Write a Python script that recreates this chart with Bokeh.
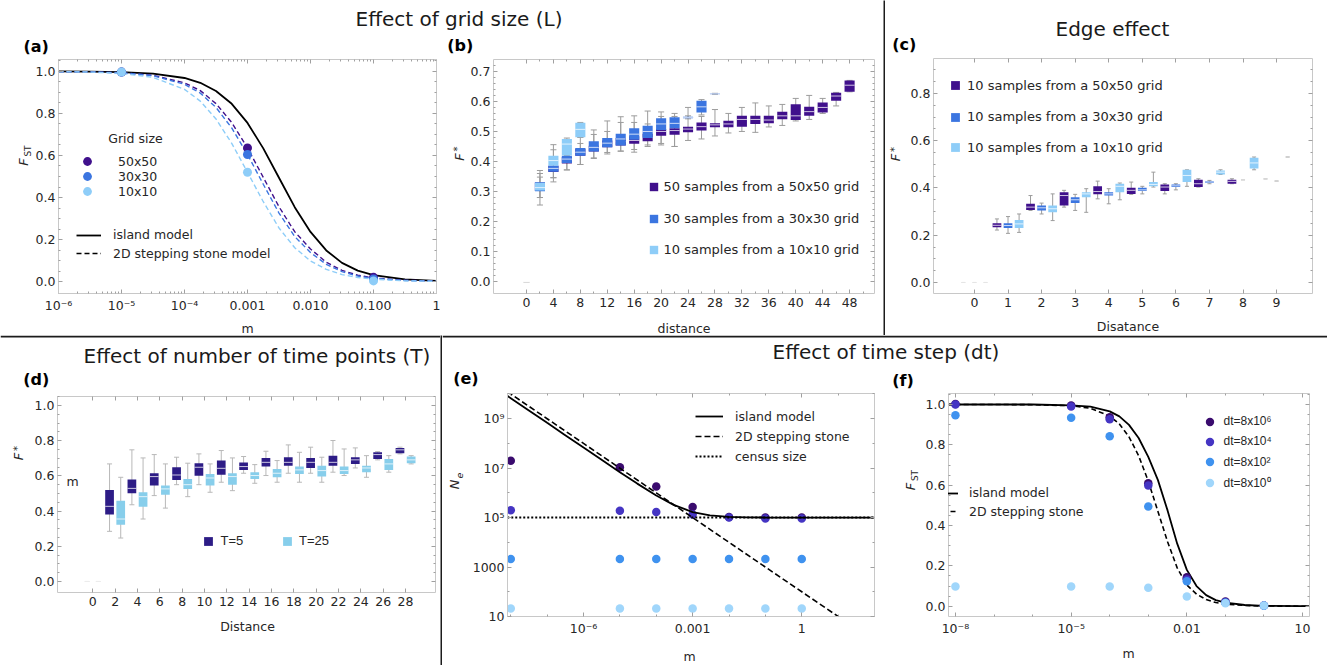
import math
from bokeh.plotting import figure
from bokeh.models import (Range1d, FixedTicker, LinearAxis, LogAxis, Label, Legend,
                          LegendItem, ColumnDataSource, NumeralTickFormatter, Span)
from bokeh.layouts import row, column
from bokeh.transform import dodge
from bokeh.embed import file_html
from bokeh.resources import INLINE

FONT = "DejaVu Sans"
LIB = "Liberation Sans"
FRAME = "#c8c8c8"
TICKC = "#a0a0a0"
TXT = "#262626"
SEP = "#1c1c1c"
WHISK = "#9c9c9c"
NAN = float("nan")

C50, C30, C10 = "#40108c", "#3b75e0", "#8ecdf8"
CT5, CT25 = "#2d1c86", "#87ceeb"
CDT = ["#3a0b6e", "#4535c3", "#3f92ef", "#a0d6fb"]

# ---------------- (a) effect of grid size: F_ST vs m ----------------
a_grid_labels = ["50x50", "30x30", "10x10"]
a_line_labels = ["island model", "2D stepping stone model"]
a_m_obs = [1e-5, 1e-3, 1e-1]
a_obs_50 = [0.997, 0.636, 0.020]
a_obs_30 = [0.997, 0.605, 0.012]
a_obs_10 = [0.997, 0.520, 0.003]
a_m = [1e-6, 3.16e-6, 1e-5, 3.16e-5, 1e-4, 1.78e-4, 3.16e-4, 5.62e-4, 1e-3, 1.78e-3,
       3.16e-3, 5.62e-3, 1e-2, 1.78e-2, 3.16e-2, 5.62e-2, 0.1, 0.316, 1.0]
a_island = [1.000, 0.999, 0.997, 0.990, 0.969, 0.946, 0.907, 0.846, 0.755, 0.634,
            0.494, 0.354, 0.236, 0.148, 0.089, 0.052, 0.030, 0.010, 0.003]
a_ss_50 = [0.999, 0.998, 0.994, 0.982, 0.946, 0.909, 0.847, 0.757, 0.636, 0.496,
           0.356, 0.237, 0.155, 0.092, 0.053, 0.030, 0.017, 0.006, 0.002]
a_ss_30 = [0.999, 0.998, 0.994, 0.980, 0.939, 0.897, 0.829, 0.731, 0.605, 0.463,
           0.326, 0.214, 0.138, 0.082, 0.047, 0.026, 0.015, 0.005, 0.002]
a_ss_10 = [0.999, 0.997, 0.991, 0.972, 0.915, 0.859, 0.774, 0.658, 0.520, 0.380,
           0.255, 0.161, 0.098, 0.058, 0.033, 0.019, 0.011, 0.003, 0.001]

# ---------------- (b) F* vs distance, three grid sizes ----------------
b_labels = ["50 samples from a 50x50 grid", "30 samples from a 30x30 grid",
            "10 samples from a 10x10 grid"]
b_d50 = [0, 2, 4, 6, 8, 10, 12, 14, 16, 18, 20, 22, 24, 26, 28, 30, 32, 34, 36, 38, 40, 42, 44, 46, 48]
b_lo50 = [0.0, 0.28, 0.346, 0.372, 0.39, 0.41, 0.43, 0.435, 0.44, 0.45, 0.46, 0.45, 0.47,
          0.475, 0.485, 0.495, 0.50, 0.497, 0.515, 0.52, 0.535, 0.54, 0.56, 0.585, 0.632]
b_q1_50 = [0.0, 0.302, 0.365, 0.393, 0.419, 0.433, 0.447, 0.453, 0.459, 0.467, 0.486, 0.489, 0.497,
           0.503, 0.514, 0.514, 0.516, 0.525, 0.527, 0.541, 0.538, 0.552, 0.563, 0.602, 0.632]
b_med50 = [0.0, 0.314, 0.376, 0.405, 0.430, 0.443, 0.456, 0.466, 0.470, 0.480, 0.500, 0.503, 0.508,
           0.516, 0.522, 0.525, 0.540, 0.540, 0.538, 0.552, 0.552, 0.566, 0.580, 0.618, 0.654]
b_q3_50 = [0.0, 0.330, 0.386, 0.415, 0.442, 0.452, 0.470, 0.478, 0.484, 0.492, 0.508, 0.511, 0.516,
           0.530, 0.527, 0.536, 0.552, 0.552, 0.552, 0.566, 0.591, 0.582, 0.596, 0.629, 0.670]
b_hi50 = [0.0, 0.36, 0.40, 0.43, 0.46, 0.49, 0.50, 0.53, 0.53, 0.525, 0.55, 0.55, 0.58,
          0.55, 0.573, 0.56, 0.58, 0.595, 0.585, 0.59, 0.61, 0.62, 0.61, 0.63, 0.67]
b_d30 = [0, 2, 4, 6, 8, 10, 12, 14, 16, 18, 20, 22, 24, 26, 28]
b_lo30 = [0.0, 0.255, 0.332, 0.372, 0.39, 0.412, 0.425, 0.434, 0.431, 0.455, 0.455, 0.45, 0.542, 0.555, 0.623]
b_q1_30 = [0.0, 0.301, 0.366, 0.395, 0.419, 0.433, 0.447, 0.453, 0.472, 0.478, 0.505, 0.511, 0.544, 0.563, 0.624]
b_med30 = [0.0, 0.313, 0.377, 0.408, 0.431, 0.447, 0.461, 0.475, 0.491, 0.500, 0.525, 0.527, 0.546, 0.582, 0.625]
b_q3_30 = [0.0, 0.331, 0.386, 0.419, 0.445, 0.467, 0.478, 0.492, 0.511, 0.519, 0.544, 0.547, 0.549, 0.602, 0.626]
b_hi30 = [0.0, 0.37, 0.439, 0.44, 0.48, 0.505, 0.535, 0.549, 0.552, 0.568, 0.565, 0.56, 0.552, 0.606, 0.627]
b_d10 = [0, 2, 4, 6, 8]
b_lo10 = [0.0, 0.28, 0.346, 0.42, 0.481]
b_q1_10 = [0.0, 0.303, 0.386, 0.42, 0.481]
b_med10 = [0.0, 0.313, 0.403, 0.458, 0.507]
b_q3_10 = [0.0, 0.329, 0.419, 0.475, 0.529]
b_hi10 = [0.0, 0.348, 0.456, 0.478, 0.53]

# ---------------- (c) edge effect ----------------
c_labels = ["10 samples from a 50x50 grid", "10 samples from a 30x30 grid",
            "10 samples from a 10x10 grid"]
c_d = [0, 1, 2, 3, 4, 5, 6, 7, 8, 9]
c_lo50 = [0, 0.222, 0.305, 0.319, 0.354, 0.373, 0.375, 0.404, 0.418, 0.439]
c_q1_50 = [0, 0.234, 0.307, 0.326, 0.373, 0.375, 0.387, 0.404, 0.418, 0.439]
c_med50 = [0, 0.242, 0.319, 0.368, 0.385, 0.390, 0.404, 0.418, 0.428, 0.439]
c_q3_50 = [0, 0.251, 0.333, 0.382, 0.407, 0.401, 0.415, 0.435, 0.435, 0.439]
c_hi50 = [0, 0.269, 0.368, 0.390, 0.429, 0.425, 0.418, 0.439, 0.439, 0.439]
c_lo30 = [0, 0.208, 0.290, 0.305, 0.333, 0.375, 0.392, 0.418, 0.435, 0.429]
c_q1_30 = [0, 0.231, 0.305, 0.336, 0.368, 0.387, 0.404, 0.421, 0.435, 0.429]
c_med30 = [0, 0.241, 0.316, 0.350, 0.375, 0.392, 0.409, 0.425, 0.435, 0.429]
c_q3_30 = [0, 0.251, 0.326, 0.361, 0.382, 0.401, 0.415, 0.429, 0.435, 0.429]
c_hi30 = [0, 0.279, 0.336, 0.373, 0.397, 0.407, 0.418, 0.432, 0.435, 0.429]
c_lo10 = [0, 0.212, 0.262, 0.297, 0.350, 0.404, 0.407, 0.457, 0.477, 0.531]
c_q1_10 = [0, 0.231, 0.297, 0.361, 0.382, 0.407, 0.425, 0.457, 0.482, 0.531]
c_med10 = [0, 0.248, 0.312, 0.375, 0.407, 0.415, 0.453, 0.467, 0.506, 0.531]
c_q3_10 = [0, 0.265, 0.326, 0.382, 0.418, 0.425, 0.477, 0.474, 0.528, 0.531]
c_hi10 = [0, 0.290, 0.375, 0.397, 0.421, 0.467, 0.477, 0.477, 0.531, 0.531]

# ---------------- (d) number of time points ----------------
d_labels = ["T=5", "T=25"]
d_d = [0, 2, 4, 6, 8, 10, 12, 14, 16, 18, 20, 22, 24, 26, 28]
d_lo5 = [0, 0.285, 0.436, 0.488, 0.55, 0.55, 0.564, 0.615, 0.602, 0.615, 0.615, 0.621, 0.645, 0.691, 0.725]
d_q1_5 = [0, 0.38, 0.501, 0.545, 0.577, 0.601, 0.607, 0.634, 0.653, 0.658, 0.645, 0.658, 0.668, 0.696, 0.729]
d_med5 = [0, 0.427, 0.529, 0.596, 0.605, 0.649, 0.643, 0.653, 0.677, 0.677, 0.677, 0.677, 0.691, 0.721, 0.748]
d_q3_5 = [0, 0.52, 0.579, 0.615, 0.649, 0.672, 0.687, 0.676, 0.702, 0.706, 0.702, 0.715, 0.706, 0.734, 0.759]
d_hi5 = [0, 0.668, 0.748, 0.721, 0.706, 0.725, 0.744, 0.71, 0.74, 0.776, 0.763, 0.801, 0.759, 0.738, 0.763]
d_lo25 = [0, 0.247, 0.355, 0.417, 0.482, 0.507, 0.516, 0.558, 0.564, 0.564, 0.564, 0.602, 0.592, 0.621, 0.668]
d_q1_25 = [0, 0.323, 0.425, 0.493, 0.526, 0.545, 0.55, 0.583, 0.592, 0.611, 0.596, 0.611, 0.621, 0.634, 0.672]
d_med25 = [0, 0.355, 0.482, 0.526, 0.55, 0.588, 0.596, 0.602, 0.615, 0.634, 0.63, 0.63, 0.645, 0.668, 0.691]
d_q3_25 = [0, 0.459, 0.507, 0.545, 0.583, 0.611, 0.615, 0.621, 0.639, 0.653, 0.658, 0.653, 0.658, 0.696, 0.71]
d_hi25 = [0, 0.592, 0.702, 0.668, 0.672, 0.668, 0.702, 0.664, 0.687, 0.734, 0.706, 0.753, 0.715, 0.715, 0.715]

# ---------------- (e) Ne vs m ----------------
e_line_labels = ["island model", "2D stepping stone", "census size"]
e_m_obs = [1e-8, 1e-5, 1e-4, 1e-3, 1e-2, 1e-1, 1.0]
e_dt8e6 = [2.0e7, 1.1e7, 1.8e6, 2.7e5, 1.07e5, 1.0e5, 1.0e5]
e_dt8e4 = [2.0e5, 1.9e5, 1.7e5, 1.35e5, 1.0e5, 0.93e5, 0.93e5]
e_dt8e2 = [2100, 2100, 2100, 2100, 2100, 2100, 2100]
e_dt8e0 = [21, 21, 21, 21, 21, 21, 21]
e_m_line = [8e-9, 1e-8, 3e-8, 1e-7, 3e-7, 1e-6, 3e-6, 1e-5, 3e-5, 1e-4, 3e-4, 1e-3,
            3e-3, 1e-2, 3e-2, 0.1, 0.3, 1.0, 10.0, 100.0]
e_island = [8.5e9, 6.8e9, 2.27e9, 6.8e8, 2.27e8, 6.81e7, 2.28e7, 6.9e6, 2.37e6, 7.8e5, 3.27e5,
            1.68e5, 1.23e5, 1.07e5, 1.02e5, 1.007e5, 1.002e5, 1.0e5, 1.0e5, 1.0e5]
e_m_ss = [8e-9, 1e-8, 1e-7, 1e-6, 1e-5, 1e-4, 1e-3, 1e-2, 0.1, 1.0, 10.0, 20.0]
e_ss = [1.25e10, 1.0e10, 1.0e9, 1.0e8, 1.0e7, 1.0e6, 1.0e5, 1.0e4, 1.0e3, 100.0, 10.0, 5.0]
e_m_census = [8e-9, 100.0]
e_census = [1.0e5, 1.0e5]

# ---------------- (f) F_ST vs m, time step ----------------
f_dt_labels = ["dt=8x10\u2076", "dt=8x10\u2074", "dt=8x10\u00b2", "dt=8x10\u2070"]
f_line_labels = ["island model", "2D stepping stone"]
f_m_obs = [1e-8, 1e-5, 1e-4, 1e-3, 1e-2, 1e-1, 1.0]
f_dt8e6 = [1.003, 0.995, 0.937, 0.610, 0.144, 0.023, 0.003]
f_dt8e4 = [1.000, 0.990, 0.927, 0.598, 0.132, 0.020, 0.003]
f_dt8e2 = [0.947, 0.934, 0.843, 0.494, 0.124, 0.017, 0.002]
f_dt8e0 = [0.0975, 0.0975, 0.0975, 0.091, 0.048, 0.015, 0.003]
f_m = [6.3e-9, 1e-8, 1e-7, 1e-6, 1e-5, 3.16e-5, 1e-4, 1.78e-4, 3.16e-4, 5.62e-4, 1e-3,
       1.78e-3, 3.16e-3, 5.62e-3, 1e-2, 1.78e-2, 3.16e-2, 5.62e-2, 0.1, 0.316, 1.0, 10.0, 16.0]
f_island = [1.0, 1.0, 1.0, 1.0, 0.996, 0.989, 0.966, 0.941, 0.899, 0.834, 0.740, 0.625,
            0.475, 0.310, 0.180, 0.100, 0.055, 0.030, 0.018, 0.006, 0.002, 0.0, 0.0]
f_ss = [1.0, 1.0, 1.0, 0.999, 0.994, 0.981, 0.943, 0.903, 0.840, 0.746, 0.620, 0.470,
        0.320, 0.190, 0.105, 0.060, 0.033, 0.018, 0.010, 0.004, 0.001, 0.0, 0.0]


# ---------------- helpers ----------------
def make_fig(w, h, xr, yr, bl, br, bt, bb, xlog=False, ylog=False):
    p = figure(width=w, height=h, x_range=xr, y_range=yr,
               x_axis_type="log" if xlog else "linear",
               y_axis_type="log" if ylog else "linear",
               output_backend="svg", toolbar_location=None,
               min_border_left=bl, min_border_right=br,
               min_border_top=bt, min_border_bottom=bb,
               outline_line_color=None)
    p.xgrid.visible = False
    p.ygrid.visible = False
    top = (LogAxis if xlog else LinearAxis)()
    right = (LogAxis if ylog else LinearAxis)()
    p.add_layout(top, "above")
    p.add_layout(right, "right")
    for ax in (top, right):
        ax.major_label_text_font_size = "1px"
        ax.major_label_text_alpha = 0.0
        ax.major_label_standoff = 0
    return p, top, right


def set_ticks(p, top, right, xt, xmin, yt, ymin, xover=None, yover=None, xfmt=None, yfmt=None):
    xtk = FixedTicker(ticks=xt, minor_ticks=xmin)
    ytk = FixedTicker(ticks=yt, minor_ticks=ymin)
    bottom = p.below[0]
    left = p.left[0]
    bottom.ticker = xtk
    top.ticker = xtk
    left.ticker = ytk
    right.ticker = ytk
    for ax in (bottom, top, left, right):
        ax.axis_line_color = FRAME
        ax.major_tick_line_color = TICKC
        ax.minor_tick_line_color = TICKC
        ax.major_tick_in = 4
        ax.major_tick_out = 0
        ax.minor_tick_in = 2
        ax.minor_tick_out = 0
    for ax in (bottom, left):
        ax.major_label_text_font = FONT
        ax.major_label_text_font_size = "12.5px"
        ax.major_label_text_color = TXT
    bottom.major_label_standoff = 4
    left.major_label_standoff = 3
    if xover:
        bottom.major_label_overrides = xover
    if yover:
        left.major_label_overrides = yover
    if xfmt:
        bottom.formatter = NumeralTickFormatter(format=xfmt)
    if yfmt:
        left.formatter = NumeralTickFormatter(format=yfmt)


def lab(p, g, text, x, y, size="12.5px", font=FONT, style="normal", align="left",
        angle=0.0, color=TXT):
    # x, y in page pixels (y = vertical middle of the text); g = frame (left, bottom)
    p.add_layout(Label(x=x - g[0], y=g[1] - y, x_units="screen", y_units="screen", text=text,
                       text_font=font, text_font_size=size, text_font_style=style,
                       text_align=align, text_baseline="middle", angle=angle,
                       text_color=color))


def leg(p, g, r, text, cx, cy, gw, gh, tx, font=FONT, size="12.5px"):
    L = Legend(items=[LegendItem(label=text, renderers=[r])],
               location=(cx - gw / 2 - g[0], g[1] - cy - gh / 2),
               padding=0, spacing=0, margin=0,
               glyph_width=int(round(gw)), glyph_height=int(round(gh)),
               label_height=int(round(gh)), label_width=1,
               label_standoff=int(round(tx - (cx + gw / 2))),
               border_line_color=None, background_fill_alpha=0.0,
               label_text_font=font, label_text_font_size=size, label_text_color=TXT)
    p.add_layout(L)


def strip(x0, y0, x1, y1, color="white"):
    p = figure(width=x1 - x0, height=y1 - y0, output_backend="svg", toolbar_location=None,
               min_border=0, x_axis_location=None, y_axis_location=None,
               background_fill_color=color, border_fill_color=color,
               outline_line_color=None, x_range=Range1d(0, 1), y_range=Range1d(0, 1))
    p.xgrid.visible = False
    p.ygrid.visible = False
    return p, (x0, y1)


def hline(p, g, y):
    p.add_layout(Span(location=g[1] - y, location_units="screen", dimension="width",
                      line_color=SEP, line_width=2))


def whiskers(p, d, lo, hi, off, cw, color):
    src = ColumnDataSource(dict(d=d, lo=lo, hi=hi))
    p.segment(x0=dodge("d", off), y0="lo", x1=dodge("d", off), y1="hi", source=src,
              line_color=color, line_width=1)
    p.segment(x0=dodge("d", off - cw / 2), y0="lo", x1=dodge("d", off + cw / 2), y1="lo",
              source=src, line_color=color, line_width=1)
    p.segment(x0=dodge("d", off - cw / 2), y0="hi", x1=dodge("d", off + cw / 2), y1="hi",
              source=src, line_color=color, line_width=1)


def boxes(p, d, q1, med, q3, off, bw, color):
    src = ColumnDataSource(dict(d=d, q1=q1, med=med, q3=q3))
    p.vbar(x=dodge("d", off), width=bw, bottom="q1", top="q3", source=src,
           fill_color=color, line_color=None)
    p.segment(x0=dodge("d", off - bw / 2), y0="med", x1=dodge("d", off + bw / 2), y1="med",
              source=src, line_color="white", line_alpha=0.75, line_width=1)


def ylab_rot(p, g, main, sub, mx, my, sx, sy, subsize="9px", substyle="normal"):
    lab(p, g, main, mx, my, size="13px", style="italic", align="center", angle=math.pi / 2)
    lab(p, g, sub, sx, sy, size=subsize, style=substyle, align="center", angle=math.pi / 2)


def panel_tag(p, g, text, x, y):
    lab(p, g, text, x, y, size="16px", style="bold", color="black")


def title_txt(p, g, text, x, y):
    lab(p, g, text, x, y, size="20px", color="#1a1a1a")


fr02 = [round(0.2 * i, 1) for i in range(6)]
mn05 = [round(0.05 * i, 2) for i in range(22) if i % 4 != 0]

# ================= (a) =================
GA = (57, 295)
pa, ta, ra = make_fig(413, 259, Range1d(1e-6, 1.0), Range1d(-0.057, 1.057), 25, 9, 3, 20, xlog=True)
a_xt = [1e-6, 1e-5, 1e-4, 1e-3, 1e-2, 1e-1, 1.0]
a_xmin = [k * 10.0 ** e for e in range(-6, 0) for k in range(2, 10)]
set_ticks(pa, ta, ra, a_xt, a_xmin, fr02, mn05,
          xover={1e-6: "10\u207b\u2076", 1e-5: "10\u207b\u2075", 1e-4: "10\u207b\u2074",
                 1e-3: "0.001", 1e-2: "0.010", 1e-1: "0.100", 1.0: "1"},
          yfmt="0.0")
r_isl_a = pa.line(a_m, a_island, line_color="black", line_width=1.8)
pa.line(a_m, a_ss_50, line_color=C50, line_width=1.4, line_dash="5 3")
pa.line(a_m, a_ss_30, line_color=C30, line_width=1.4, line_dash="5 3")
pa.line(a_m, a_ss_10, line_color=C10, line_width=1.4, line_dash="5 3")
r_ss_a = pa.line(x=[NAN], y=[NAN], line_color="black", line_width=1.6, line_dash="5 3")
ra50 = pa.scatter(a_m_obs, a_obs_50, size=9, marker="circle", fill_color=C50, line_color=None)
ra30 = pa.scatter(a_m_obs, a_obs_30, size=9, marker="circle", fill_color=C30, line_color=None)
ra10 = pa.scatter(a_m_obs, a_obs_10, size=9, marker="circle", fill_color=C10, line_color=None)
lab(pa, GA, "Grid size", 106.7, 139.5)
for r, t, cy in zip([ra50, ra30, ra10], a_grid_labels, [163.3, 178.3, 193.3]):
    leg(pa, GA, r, t, 86, cy, 22, 22, 117.3)
for r, t, cy in zip([r_isl_a, r_ss_a], a_line_labels, [236.7, 255.0]):
    leg(pa, GA, r, t, 87.5, cy, 25, 16, 112.3)

# ================= (b) =================
GB = (493, 295)
pb, tb, rb = make_fig(417, 259, Range1d(-4.9, 51.7), Range1d(-0.0396, 0.7396), 27, 9, 3, 20)
set_ticks(pb, tb, rb, list(range(0, 49, 4)), list(range(2, 51, 4)),
          [round(0.1 * i, 1) for i in range(8)], [round(0.02 * i, 2) for i in range(37) if i % 5 != 0],
          yfmt="0.0")
whiskers(pb, b_d50, b_lo50, b_hi50, 0, 0.9, WHISK)
whiskers(pb, b_d30, b_lo30, b_hi30, 0, 0.9, WHISK)
whiskers(pb, b_d10, b_lo10, b_hi10, 0, 0.9, WHISK)
boxes(pb, b_d50, b_q1_50, b_med50, b_q3_50, 0, 1.5, C50)
boxes(pb, b_d30, b_q1_30, b_med30, b_q3_30, 0, 1.5, C30)
boxes(pb, b_d10, b_q1_10, b_med10, b_q3_10, 0, 1.5, C10)
for c, t, cy in zip([C50, C30, C10], b_labels, [188.3, 220.0, 251.0]):
    rr = pb.scatter(x=[NAN], y=[NAN], marker="square", fill_color=c, line_color=None)
    leg(pb, GB, rr, t, 653, cy, 21, 21, 661.7, size="13px")

# ================= (c) =================
GC = (933, 293)
pc, tc, rc = make_fig(424, 258, Range1d(-1.22, 10.07), Range1d(-0.0466, 0.948), 30, 15, 3, 20)
set_ticks(pc, tc, rc, c_d, [], [0.0, 0.2, 0.4, 0.6, 0.8],
          [round(0.05 * i, 2) for i in range(19) if i % 4 != 0], yfmt="0.0")
whiskers(pc, c_d, c_lo50, c_hi50, -0.33, 0.12, WHISK)
whiskers(pc, c_d, c_lo30, c_hi30, 0.0, 0.12, WHISK)
whiskers(pc, c_d, c_lo10, c_hi10, 0.33, 0.12, WHISK)
boxes(pc, c_d, c_q1_50, c_med50, c_q3_50, -0.33, 0.26, C50)
boxes(pc, c_d, c_q1_30, c_med30, c_q3_30, 0.0, 0.26, C30)
boxes(pc, c_d, c_q1_10, c_med10, c_q3_10, 0.33, 0.26, C10)
for c, t, cy in zip([C50, C30, C10], c_labels, [85.0, 116.7, 147.3]):
    rr = pc.scatter(x=[NAN], y=[NAN], marker="square", fill_color=c, line_color=None)
    leg(pc, GC, rr, t, 955, cy, 22, 22, 966.7, size="13px")

# ================= (d) =================
GD = (57, 592)
pd, td, rd = make_fig(410, 219, Range1d(-3.16, 30.68), Range1d(-0.0625, 1.051), 27, 5, 3, 20)
set_ticks(pd, td, rd, d_d, [], fr02, mn05, yfmt="0.0")
whiskers(pd, d_d, d_lo5, d_hi5, -0.5, 0.45, "#b8b8b8")
whiskers(pd, d_d, d_lo25, d_hi25, 0.5, 0.45, "#b8b8b8")
boxes(pd, d_d, d_q1_5, d_med5, d_q3_5, -0.5, 0.78, CT5)
boxes(pd, d_d, d_q1_25, d_med25, d_q3_25, 0.5, 0.78, CT25)
for c, t, cx, tx in zip([CT5, CT25], d_labels, [207.5, 287.0], [220.0, 299.0]):
    rr = pd.scatter(x=[NAN], y=[NAN], marker="square", fill_color=c, line_color=None)
    leg(pd, GD, rr, t, cx, 540.5, 22, 22, tx, font=LIB, size="13px")
lab(pd, GD, "m", 66, 481)

# ================= (e) =================
GE = (507, 621)
pe, te, re_ = make_fig(418, 252, Range1d(10 ** -8.09, 100.0), Range1d(10.0, 10 ** 10.02),
                       40, 11, 3, 20, xlog=True, ylog=True)
set_ticks(pe, te, re_, [1e-6, 1e-3, 1.0], [1e-8, 1e-7, 1e-5, 1e-4, 1e-2, 1e-1, 10.0, 100.0],
          [10.0, 1e3, 1e5, 1e7, 1e9], [100.0, 1e4, 1e6, 1e8, 1e10],
          xover={1e-6: "10\u207b\u2076", 1e-3: "0.001", 1.0: "1"},
          yover={10.0: "10", 1e3: "1000", 1e5: "10\u2075", 1e7: "10\u2077", 1e9: "10\u2079"})
for ys, c in zip([e_dt8e6, e_dt8e4, e_dt8e2, e_dt8e0], CDT):
    pe.scatter(e_m_obs, ys, size=8.5, marker="circle", fill_color=c, line_color=None)
r_e1 = pe.line(e_m_line, e_island, line_color="black", line_width=1.8)
r_e2 = pe.line(e_m_ss, e_ss, line_color="black", line_width=1.6, line_dash="6 3")
r_e3 = pe.line(e_m_census, e_census, line_color="black", line_width=2, line_dash="2 2")
for r, t, cy in zip([r_e1, r_e2, r_e3], e_line_labels, [421.0, 441.0, 461.0]):
    leg(pe, GE, r, t, 709, cy, 28, 16, 735)

# ================= (f) =================
GF = (948, 616)
pf, tf, rf = make_fig(407, 252, Range1d(10 ** -8.18, 10 ** 1.18), Range1d(-0.051, 1.0545),
                      28, 18, 4, 25, xlog=True)
set_ticks(pf, tf, rf, [1e-8, 1e-5, 1e-2, 10.0], [1e-7, 1e-6, 1e-4, 1e-3, 1e-1, 1.0],
          fr02, mn05,
          xover={1e-8: "10\u207b\u2078", 1e-5: "10\u207b\u2075", 1e-2: "0.01", 10.0: "10"},
          yfmt="0.0")
r_f1 = pf.line(f_m, f_island, line_color="black", line_width=1.8)
r_f2 = pf.line(f_m, f_ss, line_color="black", line_width=1.6, line_dash="5 3")
rf_pts = []
for ys, c in zip([f_dt8e6, f_dt8e4, f_dt8e2, f_dt8e0], CDT):
    rf_pts.append(pf.scatter(f_m_obs, ys, size=8.5, marker="circle", fill_color=c, line_color=None))
for r, t, cy in zip(rf_pts, f_dt_labels, [421.0, 441.0, 461.7, 482.0]):
    leg(pf, GF, r, t, 1209, cy, 21, 21, 1223.3, font=LIB, size="12px")
for r, t, cy in zip([r_f1, r_f2], f_line_labels, [492.7, 511.3]):
    leg(pf, GF, r, t, 950, cy, 16, 16, 969.3)

# ================= text strips around the panels =================
hdr_ab, g = strip(0, 0, 883, 56)
title_txt(hdr_ab, g, "Effect of grid size (L)", 355, 18)
panel_tag(hdr_ab, g, "(a)", 23, 46)
panel_tag(hdr_ab, g, "(b)", 446.7, 45.3)
ftr_ab, g = strip(0, 315, 883, 335)
lab(ftr_ab, g, "m", 247, 328, align="center")
lab(ftr_ab, g, "distance", 683.5, 327.5, align="center")
left_a, g = strip(0, 56, 32, 315)
ylab_rot(left_a, g, "F", "ST", 23, 183.5, 27, 172.5)
left_b, g = strip(445, 56, 466, 315)
ylab_rot(left_b, g, "F", "*", 458.5, 178.5, 457, 170.5, subsize="10px")

hdr_c, g = strip(885, 0, 1327, 55)
title_txt(hdr_c, g, "Edge effect", 1055, 28)
panel_tag(hdr_c, g, "(c)", 891.7, 44)
left_c, g = strip(885, 55, 903, 313)
ylab_rot(left_c, g, "F", "*", 895, 177, 894, 169, subsize="10px")
ftr_c, g = strip(885, 313, 1327, 335)
lab(ftr_c, g, "Disatance", 1127.5, 325.5, align="center")

hdr_d, g = strip(0, 335, 440, 393)
hline(hdr_d, g, 336)
title_txt(hdr_d, g, "Effect of number of time points (T)", 83, 355)
panel_tag(hdr_d, g, "(d)", 22.7, 379)
left_d, g = strip(0, 393, 30, 612)
ylab_rot(left_d, g, "F", "*", 18, 476, 17, 468, subsize="10px")
ftr_d, g = strip(0, 612, 440, 665)
lab(ftr_d, g, "Distance", 247, 625.5, align="center")

hdr_ef, g = strip(442, 335, 1327, 389)
hline(hdr_ef, g, 336)
title_txt(hdr_ef, g, "Effect of time step (dt)", 772, 351)
panel_tag(hdr_ef, g, "(e)", 452.7, 378.3)
panel_tag(hdr_ef, g, "(f)", 891.7, 379.5)
left_e, g = strip(442, 389, 467, 641)
ylab_rot(left_e, g, "N", "e", 454, 509, 458.5, 500, subsize="9.5px", substyle="italic")
left_f, g = strip(885, 389, 920, 641)
ylab_rot(left_f, g, "F", "ST", 910, 511, 914.5, 500)
ftr_ef, g = strip(442, 641, 1327, 665)
lab(ftr_ef, g, "m", 689, 656, align="center")
lab(ftr_ef, g, "m", 1128, 653, align="center")

vsep1, _ = strip(883, 0, 885, 335, SEP)
vsep2, _ = strip(440, 335, 442, 665, SEP)

block_ab = column(hdr_ab, row(left_a, pa, left_b, pb), ftr_ab)
block_c = column(hdr_c, row(left_c, pc), ftr_c)
block_d = column(hdr_d, row(left_d, pd), ftr_d)
block_ef = column(hdr_ef, row(left_e, pe, left_f, pf), ftr_ef)
root = column(row(block_ab, vsep1, block_c), row(block_d, vsep2, block_ef))

open("out.html", "w").write(file_html(root, INLINE))
